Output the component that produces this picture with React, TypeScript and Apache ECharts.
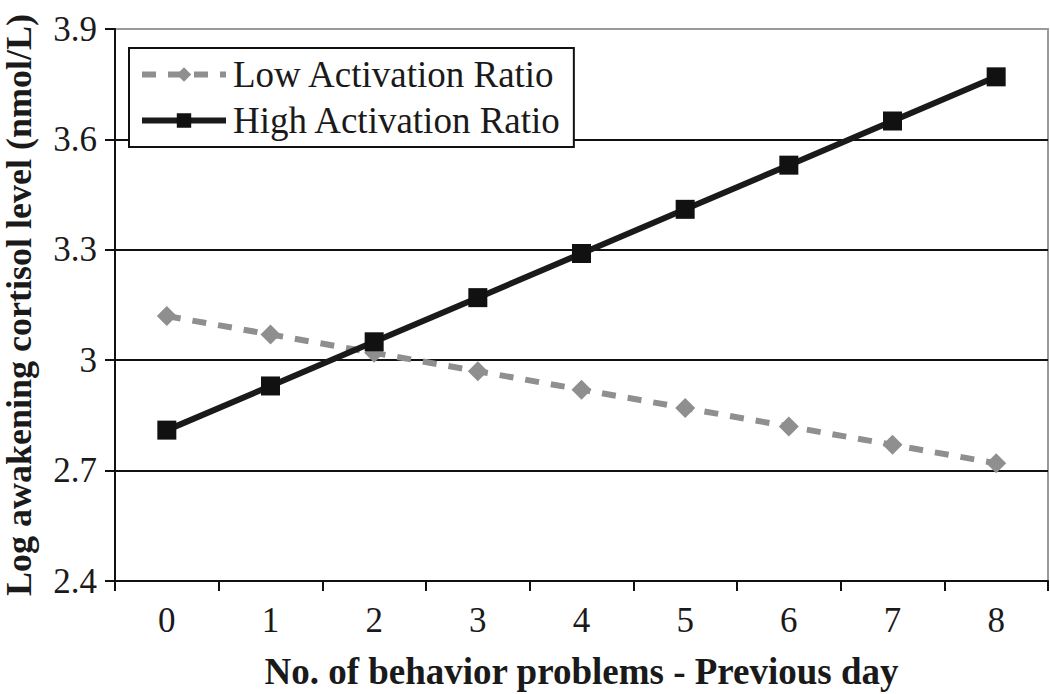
import React, { useEffect, useRef } from "react";
import * as echarts from "echarts";

const categories = ["0", "1", "2", "3", "4", "5", "6", "7", "8"];
const lowActivation = [3.12, 3.07, 3.02, 2.97, 2.92, 2.87, 2.82, 2.77, 2.72];
const highActivation = [2.81, 2.93, 3.05, 3.17, 3.29, 3.41, 3.53, 3.65, 3.77];
const seriesNames = ["Low Activation Ratio", "High Activation Ratio"];
const xTitle = "No. of behavior problems - Previous day";
const yTitle = "Log awakening cortisol level (nmol/L)";

const FONT = "Liberation Serif";

export default function App() {
  const ref = useRef<HTMLDivElement>(null);
  useEffect(() => {
    if (!ref.current) return;
    const chart = echarts.init(ref.current, null, { renderer: "svg" });
    chart.setOption({
      animation: false,
      backgroundColor: "#ffffff",
      textStyle: { fontFamily: FONT },
      grid: {
        left: 115,
        right: 2,
        top: 29,
        bottom: 113,
        containLabel: false,
        outerBoundsMode: "none",
        show: true,
        borderColor: "#9a9a9a",
        borderWidth: 2,
      },
      legend: {
        left: 129,
        top: 48,
        orient: "vertical",
        data: seriesNames,
        backgroundColor: "#ffffff",
        borderColor: "#111",
        borderWidth: 2,
        borderRadius: 0,
        padding: [8, 12, 8, 10],
        itemGap: 9,
        itemWidth: 84,
        itemHeight: 18,
        lineStyle: { width: 6 },
        textStyle: { fontFamily: FONT, fontSize: 37, color: "#1a1a1a", padding: [0, 0, 0, 2] },
      },
      xAxis: {
        type: "category",
        data: categories,
        boundaryGap: true,
        axisLine: { lineStyle: { color: "#111", width: 2 } },
        axisTick: { show: true, interval: 0, length: 10, lineStyle: { color: "#111", width: 2 } },
        axisLabel: { fontFamily: FONT, fontSize: 35, color: "#1a1a1a", margin: 22 },
        name: xTitle,
        nameLocation: "middle",
        nameGap: 72,
        nameTextStyle: { fontFamily: FONT, fontSize: 37, fontWeight: "bold", color: "#1a1a1a" },
        splitLine: { show: false },
      },
      yAxis: {
        type: "value",
        min: 2.4,
        max: 3.9,
        interval: 0.3,
        axisLine: { show: true, lineStyle: { color: "#111", width: 2 } },
        axisTick: { show: true, length: 10, lineStyle: { color: "#111", width: 2 } },
        axisLabel: { fontFamily: FONT, fontSize: 35, color: "#1a1a1a", margin: 18 },
        splitLine: {
          show: true,
          lineStyle: { color: ["#111", "#111", "#111", "#111", "#111", "#9a9a9a"], width: 2 },
        },
        name: yTitle,
        nameLocation: "middle",
        nameRotate: 90,
        nameGap: 78,
        nameTextStyle: { fontFamily: FONT, fontSize: 36, fontWeight: "bold", color: "#1a1a1a" },
      },
      series: [
        {
          name: seriesNames[0],
          type: "line",
          data: lowActivation,
          symbol: "diamond",
          symbolSize: 20,
          itemStyle: { color: "#8f8f8f" },
          lineStyle: { color: "#8f8f8f", width: 6, type: [14, 12] },
          z: 2,
        },
        {
          name: seriesNames[1],
          type: "line",
          data: highActivation,
          symbol: "rect",
          symbolSize: 19,
          itemStyle: { color: "#111" },
          lineStyle: { color: "#1a1a1a", width: 6 },
          z: 3,
        },
      ],
    });
    return () => chart.dispose();
  }, []);
  return <div ref={ref} style={{ width: 1050, height: 694, position: "absolute", left: 0, top: 0 }} />;
}
